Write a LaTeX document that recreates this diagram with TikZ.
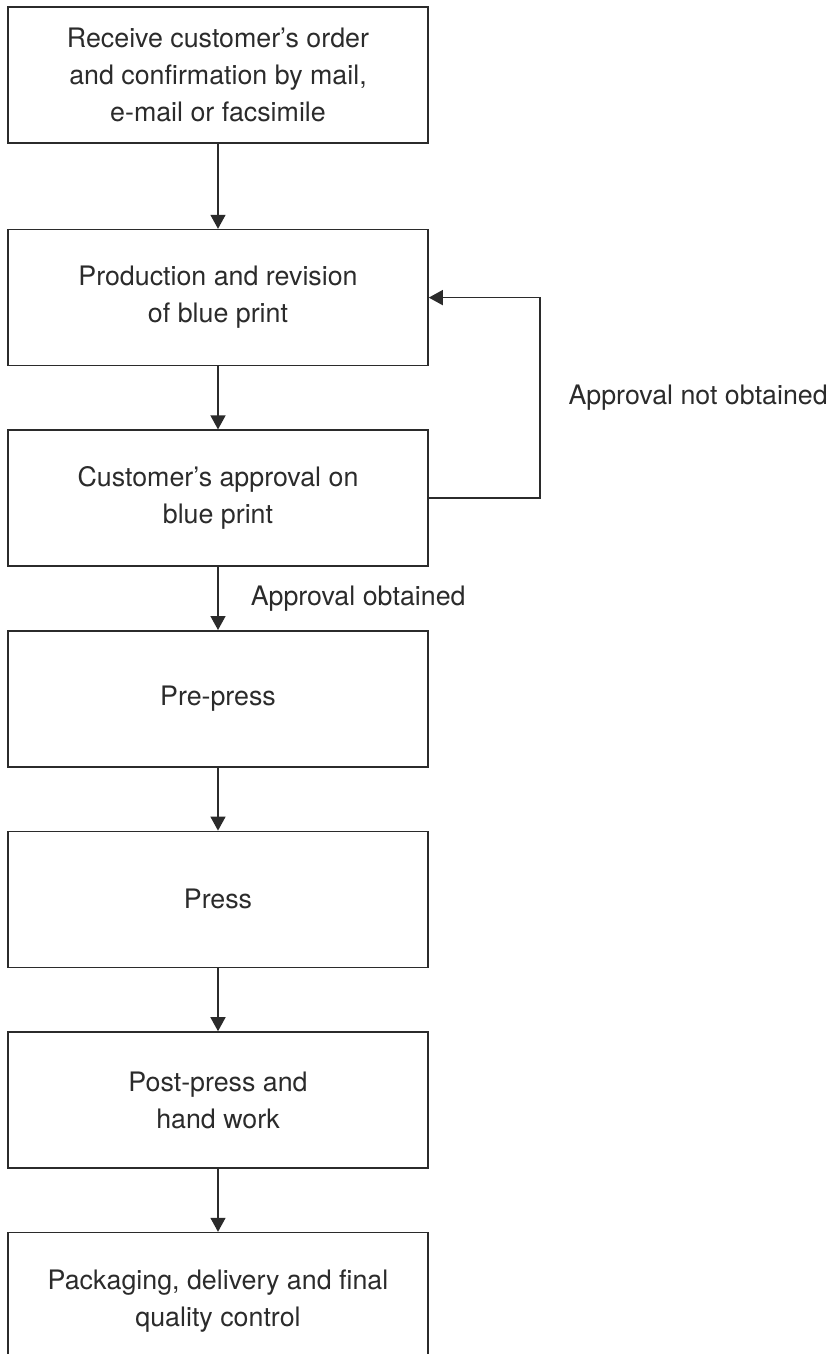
\documentclass[tikz,border=0pt]{standalone}
\usepackage{fontspec}
\setmainfont{TeX Gyre Heros}
\usetikzlibrary{positioning,arrows.meta}
\definecolor{inkgray}{HTML}{2B2B2B}
\tikzset{
  stepbox/.style={draw=inkgray, line width=0.8pt, minimum width=210pt, minimum height=68pt,
    align=center, text=inkgray, font=\fontsize{13.4}{18.5}\selectfont},
  flow/.style={-{Triangle[length=7pt,width=7.5pt]}, draw=inkgray, line width=0.75pt},
  note/.style={text=inkgray, font=\fontsize{13.4}{18.5}\selectfont, inner sep=0pt}
}
\begin{document}
\begin{tikzpicture}[x=0.5pt,y=-0.5pt]

\useasboundingbox (0,0) rectangle (834,1354);

% Boxes
\node[stepbox] (order) at (218,75) {Receive customer's order\\and confirmation by mail,\\e-mail or facsimile};
\node[stepbox, below=42.5pt of order] (blueprint) {Production and revision\\of blue print};
\node[stepbox, below=31.5pt of blueprint] (approve) {Customer's approval on\\blue print};
\node[stepbox, below=31.5pt of approve] (prepress) {Pre-press};
\node[stepbox, below=31.5pt of prepress] (press) {Press};
\node[stepbox, below=31.5pt of press] (postpress) {Post-press and\\hand work};
\node[stepbox, below=31.5pt of postpress] (packing) {Packaging, delivery and final\\quality control};

% Arrows
\draw[flow] (order) -- (blueprint);
\draw[flow] (blueprint) -- (approve);
\draw[flow] (approve) -- node[note, right=16pt] {Approval obtained} (prepress);
\draw[flow] (prepress) -- (press);
\draw[flow] (press) -- (postpress);
\draw[flow] (postpress) -- (packing);

% Loop back
\draw[flow] (approve.east) -- ++(55.5pt,0) |- node[note, pos=0.25, right=14pt] {Approval not obtained} (blueprint.east);

\end{tikzpicture}
\end{document}
